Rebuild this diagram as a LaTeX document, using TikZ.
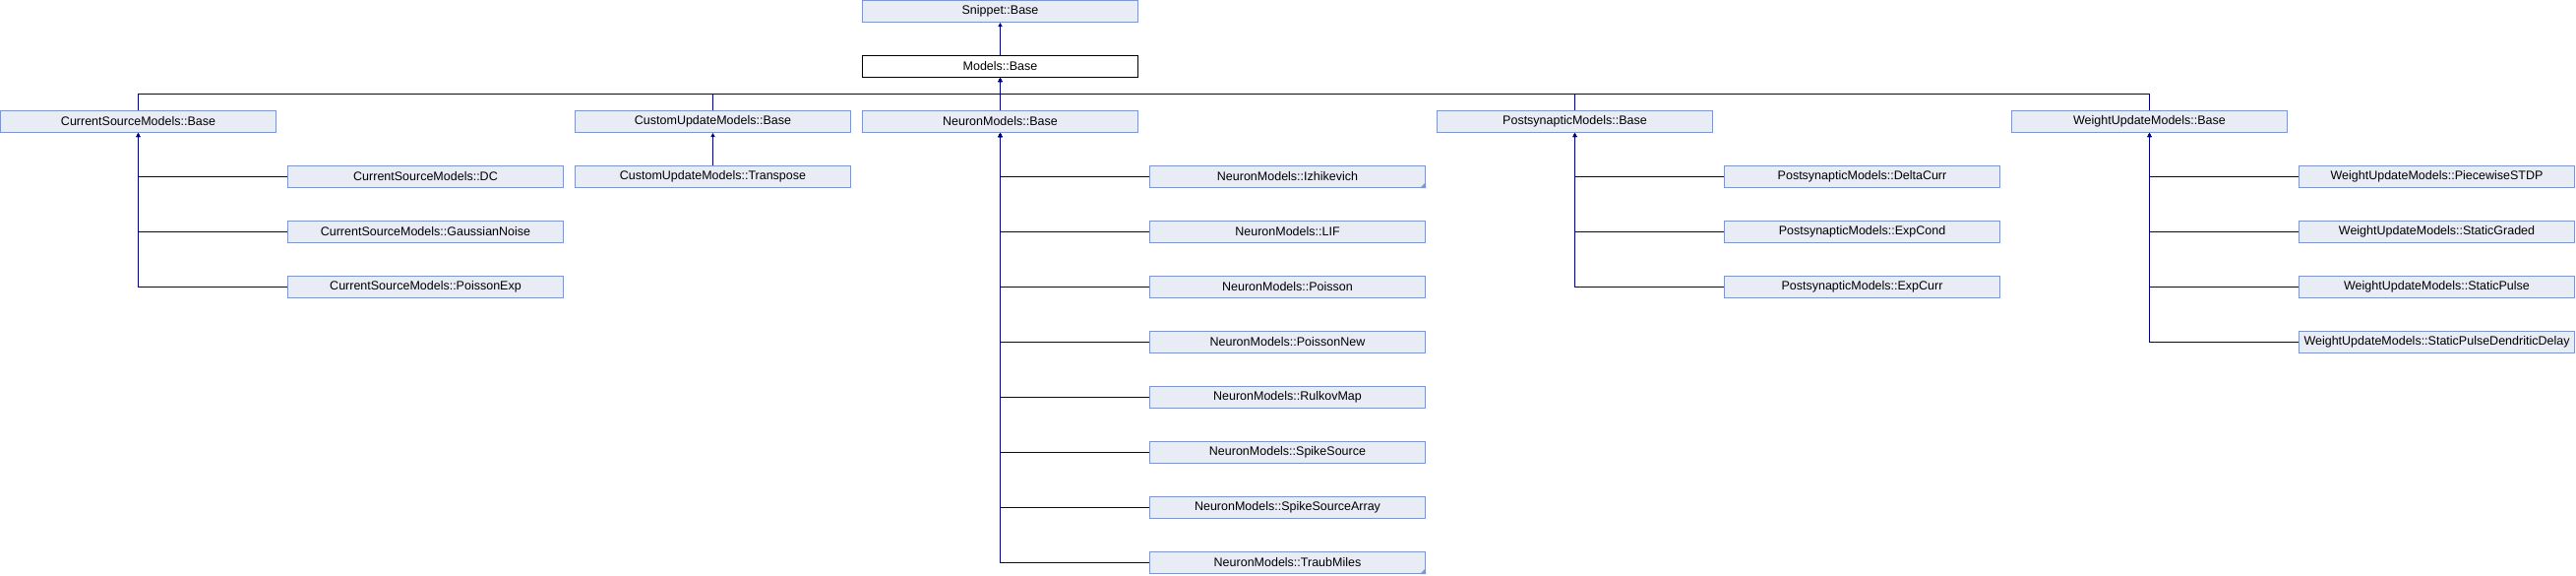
\documentclass[tikz,border=0pt]{standalone}
\usepackage{fontspec}
\setmainfont{Liberation Sans}
\usetikzlibrary{arrows.meta}
\definecolor{boxfill}{HTML}{E8ECF5}
\definecolor{boxline}{HTML}{7F95CE}
\definecolor{edgeblue}{HTML}{00007A}

\begin{document}
\begin{tikzpicture}
  [x=1pt,y=-1pt,>={Triangle[length=4pt,width=4pt]},
   every node/.style={draw=boxline,fill=boxfill,line width=1pt,inner sep=0pt,
     minimum width=280pt,minimum height=22pt,font=\fontsize{12.5}{14}\selectfont},
   link/.style={draw=edgeblue,line width=1pt,<-}]
  \useasboundingbox (0,0) rectangle (2618,584);

  \node (snip) at (1016.5,11.5) {Snippet::Base};
  \node[draw=black,fill=white] (models) at (1016.5,67.5) {Models::Base};
  \coordinate (bus) at (1016.5,95.5);

  % bases
  \node (csb) at (140.5,123.5)  {CurrentSourceModels::Base};
  \node (cub) at (724.5,123.5)  {CustomUpdateModels::Base};
  \node (nmb) at (1016.5,123.5) {NeuronModels::Base};
  \node (psb) at (1600.5,123.5) {PostsynapticModels::Base};
  \node (wub) at (2184.5,123.5) {WeightUpdateModels::Base};

  % current sources
  \node (csdc) at (432.5,179.5) {CurrentSourceModels::DC};
  \node (csgn) at (432.5,235.5) {CurrentSourceModels::GaussianNoise};
  \node (cspe) at (432.5,291.5) {CurrentSourceModels::PoissonExp};

  % custom updates
  \node (cutr) at (724.5,179.5) {CustomUpdateModels::Transpose};

  % neurons
  \node (nmiz)  at (1308.5,179.5) {NeuronModels::Izhikevich};
  \node (nmlif) at (1308.5,235.5) {NeuronModels::LIF};
  \node (nmpo)  at (1308.5,291.5) {NeuronModels::Poisson};
  \node (nmpn)  at (1308.5,347.5) {NeuronModels::PoissonNew};
  \node (nmrk)  at (1308.5,403.5) {NeuronModels::RulkovMap};
  \node (nmss)  at (1308.5,459.5) {NeuronModels::SpikeSource};
  \node (nmssa) at (1308.5,515.5) {NeuronModels::SpikeSourceArray};
  \node (nmtm)  at (1308.5,571.5) {NeuronModels::TraubMiles};

  % postsynaptic
  \node (psdc) at (1892.5,179.5) {PostsynapticModels::DeltaCurr};
  \node (psec) at (1892.5,235.5) {PostsynapticModels::ExpCond};
  \node (psex) at (1892.5,291.5) {PostsynapticModels::ExpCurr};

  % weight updates
  \node (wupw) at (2476.5,179.5) {WeightUpdateModels::PiecewiseSTDP};
  \node (wusg) at (2476.5,235.5) {WeightUpdateModels::StaticGraded};
  \node (wusp) at (2476.5,291.5) {WeightUpdateModels::StaticPulse};
  \node (wusd) at (2476.5,347.5) {WeightUpdateModels::StaticPulseDendriticDelay};

  \draw[link] (snip) -- (models);
  \foreach \to in {csb,cub,nmb,psb,wub}
    \draw[link] (models) -- (bus) -| (\to);
  \draw[link] (cub) -- (cutr);
  \foreach \from/\to in {csb/csdc,csb/csgn,csb/cspe,
      nmb/nmiz,nmb/nmlif,nmb/nmpo,nmb/nmpn,nmb/nmrk,nmb/nmss,nmb/nmssa,nmb/nmtm,
      psb/psdc,psb/psec,psb/psex,wub/wupw,wub/wusg,wub/wusp,wub/wusd}
    \draw[link] (\from) |- (\to);

  \foreach \n in {nmiz,nmtm}
    \fill[boxline] (\n.south east) -- ++(-6,0) -- ++(6,-6) -- cycle;
\end{tikzpicture}
\end{document}
